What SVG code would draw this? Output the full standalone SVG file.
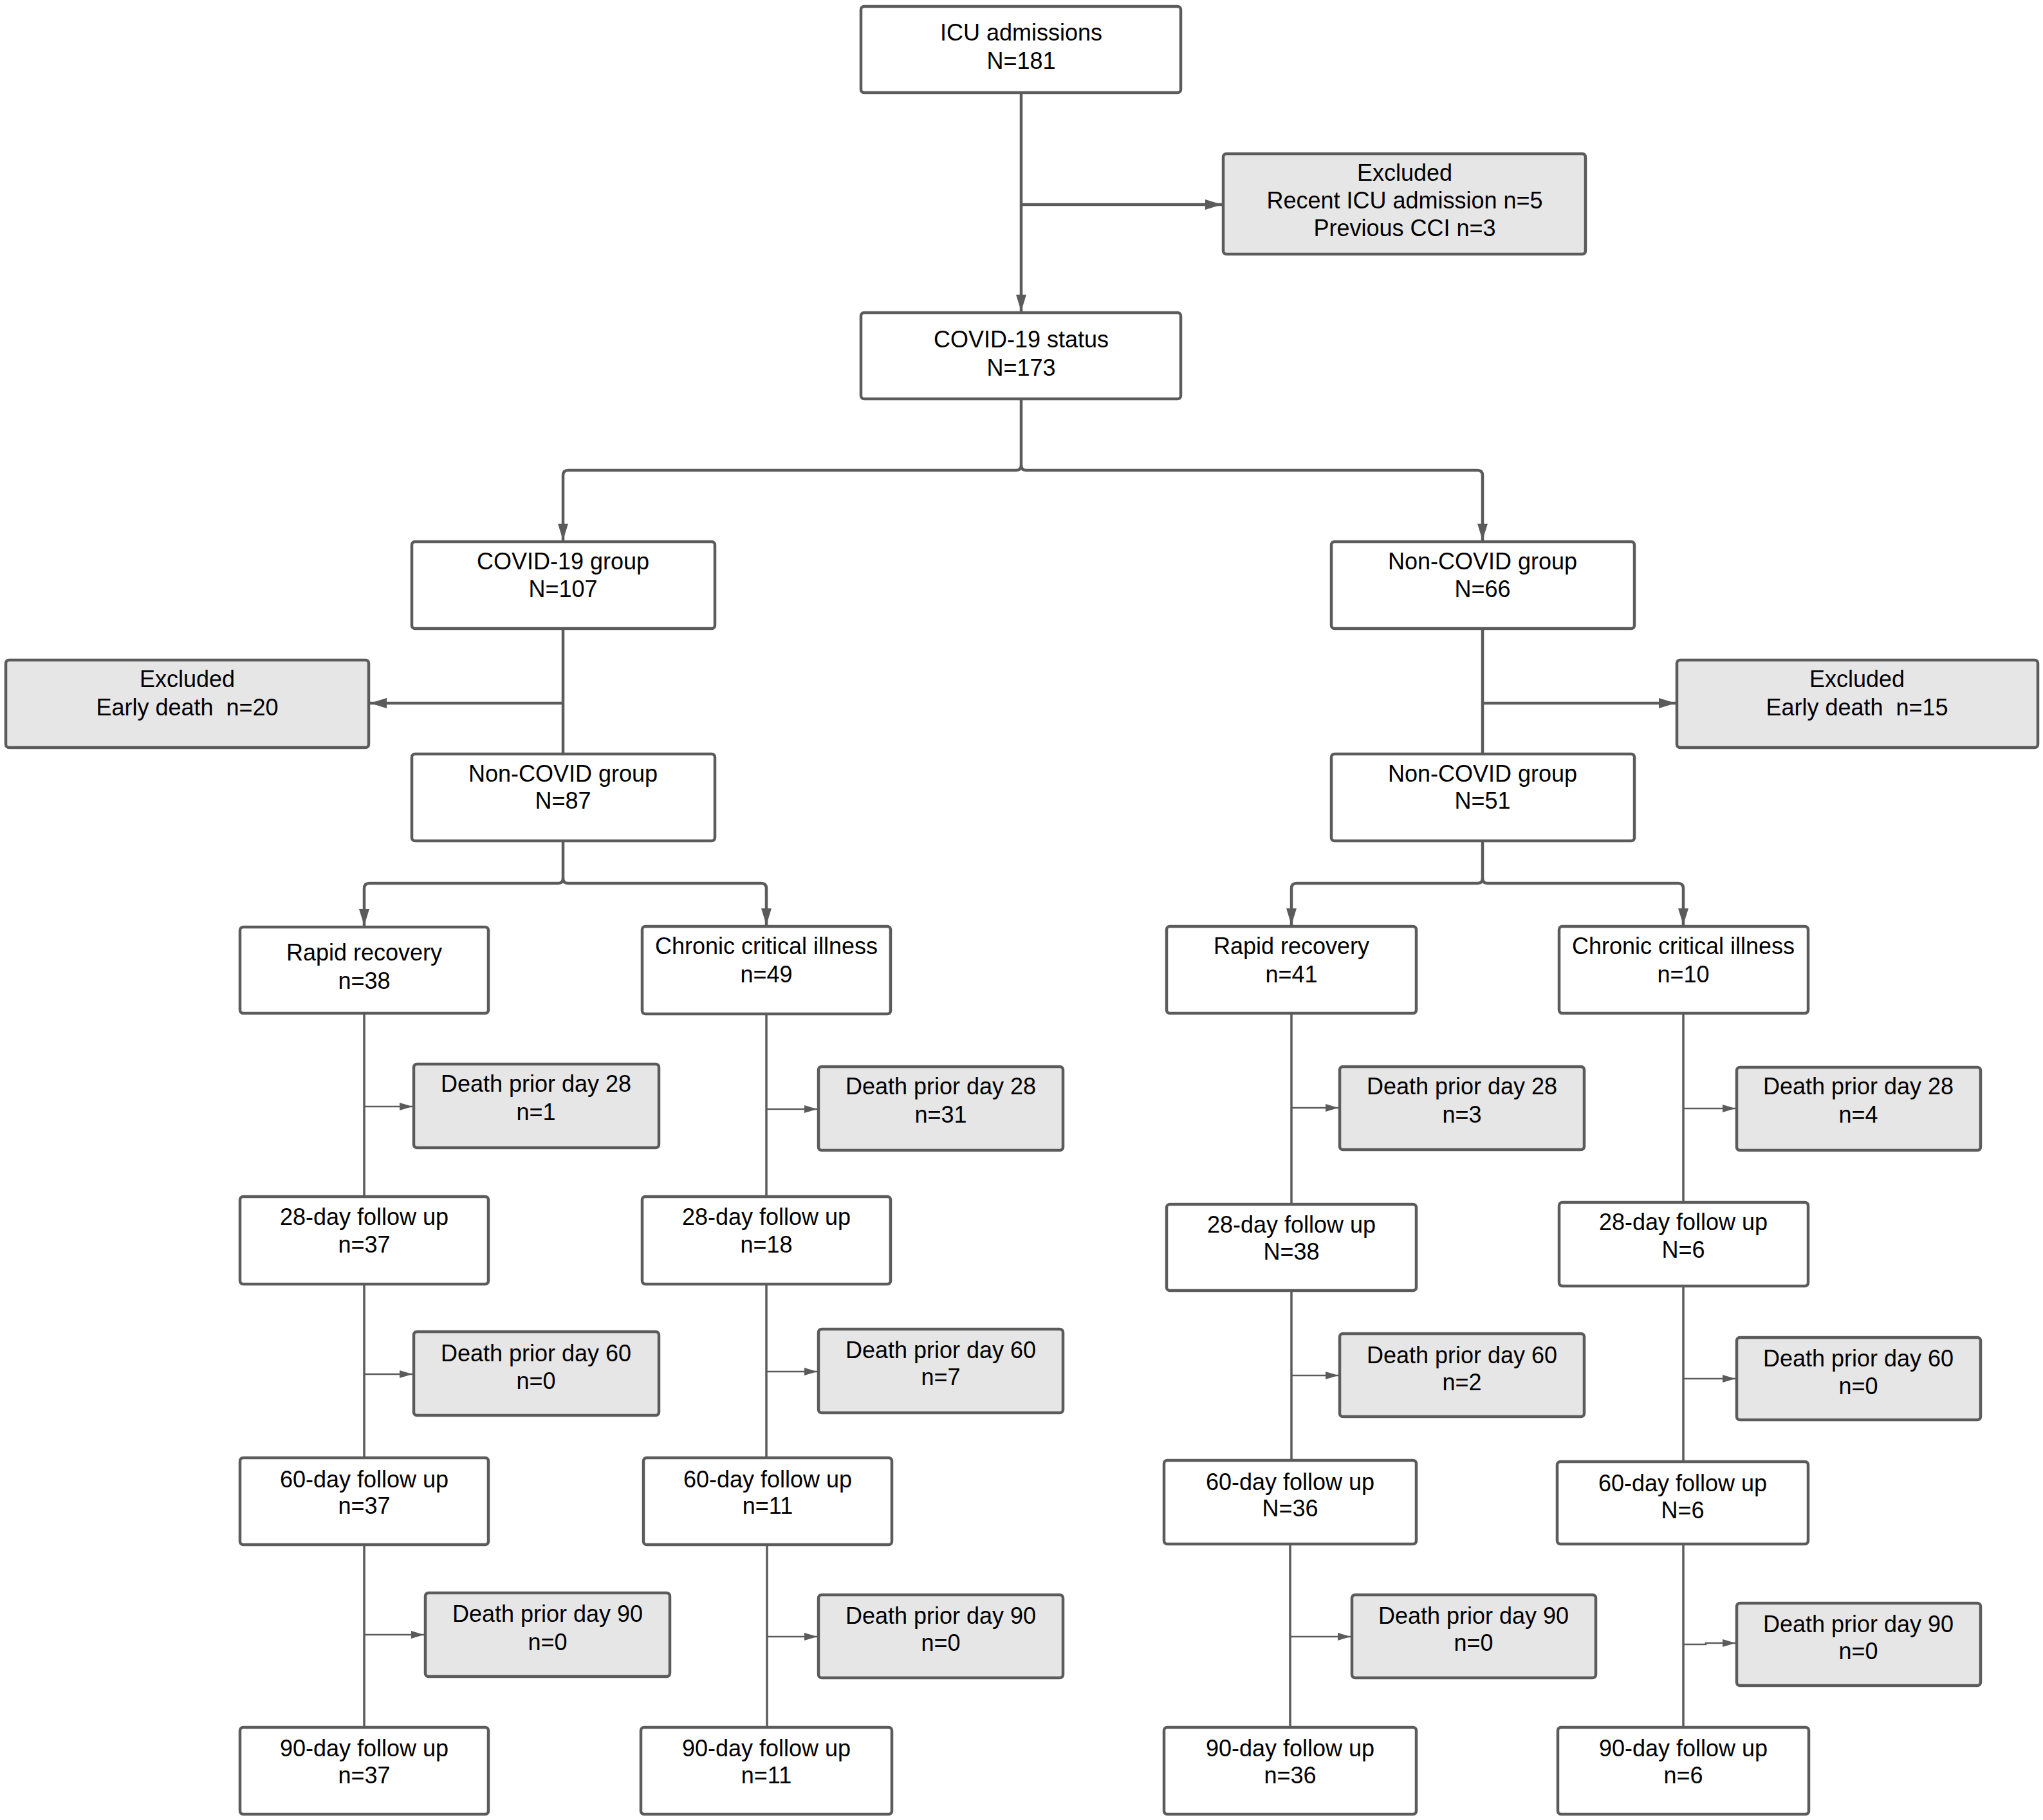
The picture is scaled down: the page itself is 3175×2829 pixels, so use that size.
<svg xmlns="http://www.w3.org/2000/svg" width="3175" height="2829" viewBox="0 0 3175 2829">
<style>
.b{fill:#ffffff;stroke:#5b5b5b;stroke-width:4.5}
.g{fill:#e6e6e6;stroke:#5b5b5b;stroke-width:4.5}
text{font-family:"Liberation Sans",Arial,sans-serif;font-size:36px;fill:#000;text-anchor:middle}
.k{fill:none;stroke:#5b5b5b;stroke-width:4.5}
.t{fill:none;stroke:#5b5b5b;stroke-width:3.5}
.s{fill:none;stroke:#5b5b5b;stroke-width:2.5}
.big{marker-end:url(#ab)}
.sm{marker-end:url(#as)}
</style>
<defs>
<marker id="ab" markerUnits="userSpaceOnUse" markerWidth="26" markerHeight="16" refX="26" refY="8" orient="auto" viewBox="0 0 26 16"><path d="M0,0 L26,8 L0,16 Z" fill="#5b5b5b"/></marker>
<marker id="as" markerUnits="userSpaceOnUse" markerWidth="20" markerHeight="12" refX="20" refY="6" orient="auto" viewBox="0 0 20 12"><path d="M0,0 L20,6 L0,12 Z" fill="#5b5b5b"/></marker>
</defs>
<rect width="3175" height="2829" fill="#ffffff"/>
<g id="connectors">
<path class="k big" d="M1587,144 V484"/>
<path class="k big" d="M1587,318 H1899"/>
<path class="k big" d="M1587,620 V723 Q1587,731 1579,731 H883 Q875,731 875,739 V840"/>
<path class="k big" d="M1587,723 Q1587,731 1595,731 H2296 Q2304,731 2304,739 V840"/>
<path class="k" d="M875,977 V1172"/>
<path class="k big" d="M875,1093 H575"/>
<path class="k" d="M2304,977 V1172"/>
<path class="k big" d="M2304,1093 H2604"/>
<path class="k big" d="M875,1307 V1365 Q875,1373 867,1373 H574 Q566,1373 566,1381 V1439"/>
<path class="k big" d="M875,1365 Q875,1373 883,1373 H1183 Q1191,1373 1191,1381 V1438"/>
<path class="k big" d="M2304,1307 V1365 Q2304,1373 2296,1373 H2015 Q2007,1373 2007,1381 V1438"/>
<path class="k big" d="M2304,1365 Q2304,1373 2312,1373 H2608 Q2616,1373 2616,1381 V1438"/>
<path class="t" d="M566,1575 V1860"/>
<path class="t" d="M566,1996 V2266"/>
<path class="t" d="M566,2401 V2685"/>
<path class="s sm" d="M566,1720 H641"/>
<path class="s sm" d="M566,2136 H641"/>
<path class="s sm" d="M566,2541 H659"/>
<path class="t" d="M1191,1576 V1860"/>
<path class="t" d="M1191,1996 V2266"/>
<path class="t" d="M1192,2401 V2685"/>
<path class="s sm" d="M1191,1724 H1270"/>
<path class="s sm" d="M1191,2132 H1270"/>
<path class="s sm" d="M1192,2544 H1270"/>
<path class="t" d="M2007,1575 V1872"/>
<path class="t" d="M2007,2006 V2270"/>
<path class="t" d="M2005,2400 V2685"/>
<path class="s sm" d="M2007,1722 H2080"/>
<path class="s sm" d="M2007,2138 H2080"/>
<path class="s sm" d="M2005,2544 H2099"/>
<path class="t" d="M2616,1575 V1869"/>
<path class="t" d="M2616,1999 V2272"/>
<path class="t" d="M2616,2400 V2685"/>
<path class="s sm" d="M2616,1723 H2697"/>
<path class="s sm" d="M2616,2143 H2697"/>
<path class="s sm" d="M2616,2556 H2651 V2554 H2697"/>
</g>
<g id="n1"><rect class="b" x="1338" y="10" width="497" height="134" rx="5"/><text x="1587" y="63">ICU admissions</text><text x="1587" y="107">N=181</text></g>
<g id="n2"><rect class="g" x="1901" y="239" width="563" height="156" rx="5"/><text x="2183" y="281">Excluded</text><text x="2183" y="324">Recent ICU admission n=5</text><text x="2183" y="367">Previous CCI n=3</text></g>
<g id="n3"><rect class="b" x="1338" y="486" width="497" height="134" rx="5"/><text x="1587" y="540">COVID-19 status</text><text x="1587" y="584">N=173</text></g>
<g id="n4"><rect class="b" x="640" y="842" width="471" height="135" rx="5"/><text x="875" y="885">COVID-19 group</text><text x="875" y="928">N=107</text></g>
<g id="n5"><rect class="b" x="2069" y="842" width="471" height="135" rx="5"/><text x="2304" y="885">Non-COVID group</text><text x="2304" y="928">N=66</text></g>
<g id="n6"><rect class="g" x="9" y="1026" width="564" height="136" rx="5"/><text x="291" y="1068">Excluded</text><text x="291" y="1112">Early death&#160; n=20</text></g>
<g id="n7"><rect class="g" x="2606" y="1026" width="561" height="136" rx="5"/><text x="2886" y="1068">Excluded</text><text x="2886" y="1112">Early death&#160; n=15</text></g>
<g id="n8"><rect class="b" x="640" y="1172" width="471" height="135" rx="5"/><text x="875" y="1215">Non-COVID group</text><text x="875" y="1257">N=87</text></g>
<g id="n9"><rect class="b" x="2069" y="1172" width="471" height="135" rx="5"/><text x="2304" y="1215">Non-COVID group</text><text x="2304" y="1257">N=51</text></g>
<g id="n10"><rect class="b" x="373" y="1441" width="386" height="134" rx="5"/><text x="566" y="1493">Rapid recovery</text><text x="566" y="1537">n=38</text></g>
<g id="n11"><rect class="b" x="998" y="1440" width="386" height="136" rx="5"/><text x="1191" y="1483">Chronic critical illness</text><text x="1191" y="1527">n=49</text></g>
<g id="n12"><rect class="b" x="1813" y="1440" width="388" height="135" rx="5"/><text x="2007" y="1483">Rapid recovery</text><text x="2007" y="1527">n=41</text></g>
<g id="n13"><rect class="b" x="2423" y="1440" width="387" height="135" rx="5"/><text x="2616" y="1483">Chronic critical illness</text><text x="2616" y="1527">n=10</text></g>
<g id="n14"><rect class="g" x="643" y="1654" width="381" height="130" rx="5"/><text x="833" y="1697">Death prior day 28</text><text x="833" y="1741">n=1</text></g>
<g id="n15"><rect class="g" x="1272" y="1658" width="380" height="130" rx="5"/><text x="1462" y="1701">Death prior day 28</text><text x="1462" y="1745">n=31</text></g>
<g id="n16"><rect class="g" x="2082" y="1658" width="380" height="129" rx="5"/><text x="2272" y="1701">Death prior day 28</text><text x="2272" y="1745">n=3</text></g>
<g id="n17"><rect class="g" x="2699" y="1659" width="379" height="129" rx="5"/><text x="2888" y="1701">Death prior day 28</text><text x="2888" y="1745">n=4</text></g>
<g id="n18"><rect class="b" x="373" y="1860" width="386" height="136" rx="5"/><text x="566" y="1904">28-day follow up</text><text x="566" y="1947">n=37</text></g>
<g id="n19"><rect class="b" x="998" y="1860" width="386" height="136" rx="5"/><text x="1191" y="1904">28-day follow up</text><text x="1191" y="1947">n=18</text></g>
<g id="n20"><rect class="b" x="1813" y="1872" width="388" height="134" rx="5"/><text x="2007" y="1916">28-day follow up</text><text x="2007" y="1958">N=38</text></g>
<g id="n21"><rect class="b" x="2423" y="1869" width="387" height="130" rx="5"/><text x="2616" y="1912">28-day follow up</text><text x="2616" y="1955">N=6</text></g>
<g id="n22"><rect class="g" x="643" y="2070" width="381" height="130" rx="5"/><text x="833" y="2116">Death prior day 60</text><text x="833" y="2159">n=0</text></g>
<g id="n23"><rect class="g" x="1272" y="2066" width="380" height="130" rx="5"/><text x="1462" y="2111">Death prior day 60</text><text x="1462" y="2153">n=7</text></g>
<g id="n24"><rect class="g" x="2082" y="2073" width="380" height="129" rx="5"/><text x="2272" y="2119">Death prior day 60</text><text x="2272" y="2161">n=2</text></g>
<g id="n25"><rect class="g" x="2699" y="2079" width="379" height="128" rx="5"/><text x="2888" y="2124">Death prior day 60</text><text x="2888" y="2167">n=0</text></g>
<g id="n26"><rect class="b" x="373" y="2266" width="386" height="135" rx="5"/><text x="566" y="2312">60-day follow up</text><text x="566" y="2353">n=37</text></g>
<g id="n27"><rect class="b" x="1000" y="2266" width="386" height="135" rx="5"/><text x="1193" y="2312">60-day follow up</text><text x="1193" y="2353">n=11</text></g>
<g id="n28"><rect class="b" x="1809" y="2270" width="392" height="130" rx="5"/><text x="2005" y="2316">60-day follow up</text><text x="2005" y="2357">N=36</text></g>
<g id="n29"><rect class="b" x="2420" y="2272" width="390" height="128" rx="5"/><text x="2615" y="2318">60-day follow up</text><text x="2615" y="2360">N=6</text></g>
<g id="n30"><rect class="g" x="661" y="2476" width="380" height="130" rx="5"/><text x="851" y="2521">Death prior day 90</text><text x="851" y="2565">n=0</text></g>
<g id="n31"><rect class="g" x="1272" y="2479" width="380" height="129" rx="5"/><text x="1462" y="2524">Death prior day 90</text><text x="1462" y="2566">n=0</text></g>
<g id="n32"><rect class="g" x="2101" y="2479" width="379" height="129" rx="5"/><text x="2290" y="2524">Death prior day 90</text><text x="2290" y="2566">n=0</text></g>
<g id="n33"><rect class="g" x="2699" y="2492" width="379" height="128" rx="5"/><text x="2888" y="2537">Death prior day 90</text><text x="2888" y="2579">n=0</text></g>
<g id="n34"><rect class="b" x="373" y="2685" width="386" height="135" rx="5"/><text x="566" y="2730">90-day follow up</text><text x="566" y="2772">n=37</text></g>
<g id="n35"><rect class="b" x="996" y="2685" width="390" height="135" rx="5"/><text x="1191" y="2730">90-day follow up</text><text x="1191" y="2772">n=11</text></g>
<g id="n36"><rect class="b" x="1809" y="2685" width="392" height="135" rx="5"/><text x="2005" y="2730">90-day follow up</text><text x="2005" y="2772">n=36</text></g>
<g id="n37"><rect class="b" x="2421" y="2685" width="390" height="135" rx="5"/><text x="2616" y="2730">90-day follow up</text><text x="2616" y="2772">n=6</text></g>
</svg>
